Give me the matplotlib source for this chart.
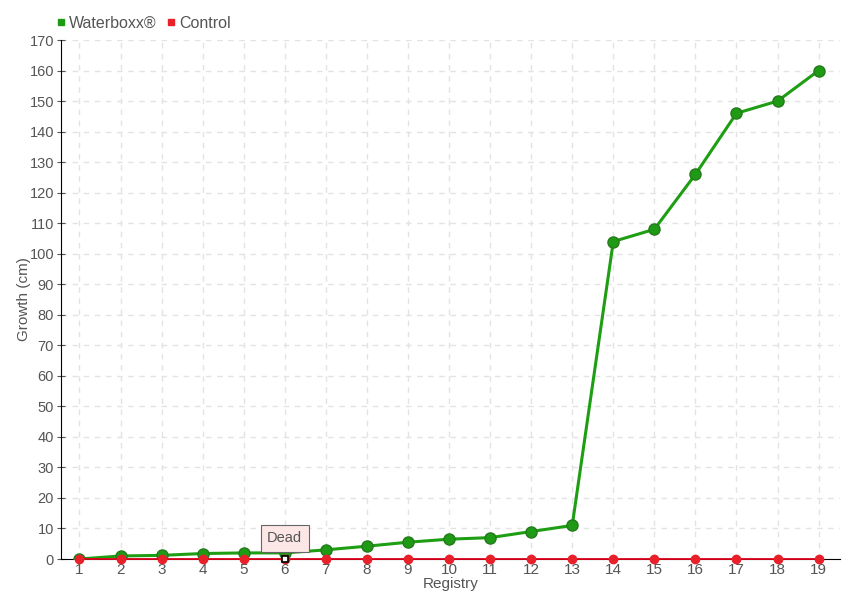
import matplotlib.pyplot as plt
from matplotlib.lines import Line2D

registry = list(range(1, 20))
waterboxx = [0, 1, 1.2, 1.8, 2, 2, 3, 4.2, 5.5, 6.5, 7, 9, 11, 104, 108, 126, 146, 150, 160]
control = [0] * 19
dead_idx = 5  # registro 6

plt.rcParams['font.family'] = ['Liberation Sans Narrow', 'Liberation Sans', 'DejaVu Sans']
txt = '#555555'

fig = plt.figure(figsize=(8.6, 6), dpi=100)
ax = fig.add_axes([0.0709, 0.0683, 0.9058, 0.865])

ax.plot(registry, waterboxx, color='#1e9e12', lw=2.2, zorder=5)
ax.plot(registry, waterboxx, 'o', color='#1f9a14', ms=8, mec='#247a1c', mew=1, zorder=5)

ax.plot(registry, control, color='#e0001b', lw=1.3, zorder=6, clip_on=False)
ax.plot(registry, control, 'o', color='#e8202a', ms=6, mec='#e8202a', zorder=6, clip_on=False)
ax.plot(registry[dead_idx], control[dead_idx], 's', color='white', mec='black', ms=5, mew=1.2,
        zorder=8, clip_on=False)

# tooltip "Dead"
ax.annotate('Dead', xy=(registry[dead_idx], control[dead_idx]), xytext=(0, 15),
            textcoords='offset points', ha='center', va='center', fontsize=10.5, color=txt,
            bbox=dict(boxstyle='square,pad=0.45', fc='#fde6e6', ec='#666666', lw=0.8),
            arrowprops=dict(arrowstyle='-', color='#666666', lw=0.8), zorder=7)

ax.set_xlim(0.55, 19.52)
ax.set_ylim(0, 170)
ax.set_xticks(registry)
ax.set_yticks(range(0, 171, 10))
ax.grid(True, color='#e3e3e3', ls=(0, (4, 4)), lw=1)
ax.set_axisbelow(True)
for s in ['top', 'right']:
    ax.spines[s].set_visible(False)
ax.spines['left'].set_color('black')
ax.spines['bottom'].set_color('black')
ax.tick_params(axis='y', direction='inout', length=6, colors=txt, labelsize=10.5, pad=2)
ax.tick_params(axis='x', length=0, colors=txt, labelsize=11, pad=3)
for t in ax.get_yticklines():
    t.set_color('black')
ax.set_xlabel('Registry', color=txt, fontsize=11, labelpad=0)
ax.set_ylabel('Growth (cm)', color=txt, fontsize=11)
ax.yaxis.set_label_coords(-0.038, 0.5)

handles = [Line2D([], [], ls='', marker='s', color='#1f9a14', ms=5),
           Line2D([], [], ls='', marker='s', color='#e8202a', ms=5)]
fig.legend(handles, ['Waterboxx®', 'Control'], loc='upper left', bbox_to_anchor=(0.045, 0.998),
           ncol=2, frameon=False, fontsize=11.5, handletextpad=0.0, columnspacing=0.4,
           labelcolor=txt, handlelength=1.0)

fig.savefig('out.png', dpi=100)
